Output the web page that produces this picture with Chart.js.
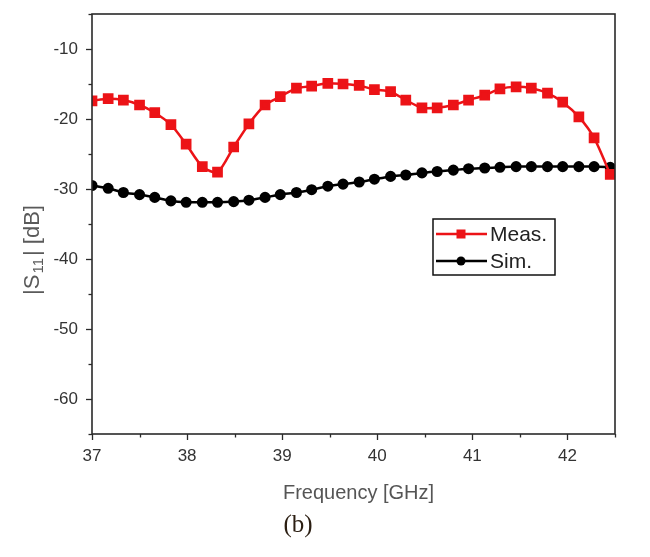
<!DOCTYPE html>
<html>
<head>
<meta charset="utf-8">
<script src="https://cdn.jsdelivr.net/npm/chart.js@4.4.1/dist/chart.umd.min.js"></script>
<style>
  html, body { margin: 0; padding: 0; background: #ffffff; }
  #wrap { width: 650px; height: 557px; position: relative; }
</style>
</head>
<body>
<div id="wrap"><canvas id="c" width="650" height="557"></canvas></div>
<script>
// ---- data ----
const frequencyGHz = [37.00, 37.17, 37.33, 37.50, 37.66, 37.83, 37.99, 38.16, 38.32, 38.49,
                      38.65, 38.82, 38.98, 39.15, 39.31, 39.48, 39.64, 39.81, 39.97, 40.14,
                      40.30, 40.47, 40.63, 40.80, 40.96, 41.13, 41.29, 41.46, 41.62, 41.79,
                      41.95, 42.12, 42.28, 42.45];
const measS11 = [-17.4, -17.1, -17.3, -18.0, -19.1, -20.8, -23.6, -26.8, -27.6, -24.0,
                 -20.7, -18.0, -16.8, -15.6, -15.3, -14.9, -15.0, -15.2, -15.8, -16.1,
                 -17.3, -18.4, -18.4, -18.0, -17.3, -16.6, -15.7, -15.4, -15.6, -16.3,
                 -17.6, -19.7, -22.7, -27.9];
const simS11 = [-29.5, -29.9, -30.5, -30.8, -31.2, -31.7, -31.9, -31.9, -31.9, -31.8,
                -31.6, -31.2, -30.8, -30.5, -30.1, -29.6, -29.3, -29.0, -28.6, -28.2,
                -28.0, -27.7, -27.5, -27.3, -27.1, -27.0, -26.9, -26.8, -26.8, -26.8,
                -26.8, -26.8, -26.8, -26.9];
const seriesNames = ['Meas.', 'Sim.'];
const xTickValues = [37, 38, 39, 40, 41, 42];
const yTickValues = [-60, -50, -40, -30, -20, -10];
const xTitle = 'Frequency [GHz]';
const yTitleParts = ['|S', '11', '| [dB]'];
const caption = '(b)';

const RED = '#ec1317';
const BLACK = '#000000';

function pts(xs, ys) { return xs.map((x, i) => ({ x: x, y: ys[i] })); }

const framePlugin = {
  id: 'frame',
  afterDraw(chart) {
    const ctx = chart.ctx;
    const a = chart.chartArea;
    const xs = chart.scales.x, ys = chart.scales.y;
    ctx.save();
    // frame
    ctx.strokeStyle = '#2a2a2a';
    ctx.lineWidth = 1.6;
    ctx.strokeRect(a.left, a.top, a.right - a.left, a.bottom - a.top);
    // x ticks (major + minor), outward
    ctx.lineWidth = 1.3;
    for (let v = 37; v <= 42.5 + 1e-9; v += 0.5) {
      const px = Math.round(xs.getPixelForValue(v)) + 0.5;
      const major = Math.abs(v - Math.round(v)) < 1e-9;
      ctx.beginPath();
      ctx.moveTo(px, a.bottom);
      ctx.lineTo(px, a.bottom + (major ? 6 : 3.5));
      ctx.stroke();
    }
    // y ticks
    for (let v = -65; v <= -5 + 1e-9; v += 5) {
      const py = Math.round(ys.getPixelForValue(v)) + 0.5;
      const major = (v % 10) === 0;
      ctx.beginPath();
      ctx.moveTo(a.left, py);
      ctx.lineTo(a.left - (major ? 6 : 3.5), py);
      ctx.stroke();
    }
    // y axis title with subscript
    ctx.fillStyle = '#5a5a5a';
    ctx.textBaseline = 'middle';
    const big = '22px "Liberation Sans", Arial, sans-serif';
    const small = '15px "Liberation Sans", Arial, sans-serif';
    ctx.font = big; const w0 = ctx.measureText(yTitleParts[0]).width;
    ctx.font = small; const w1 = ctx.measureText(yTitleParts[1]).width;
    ctx.font = big; const w2 = ctx.measureText(yTitleParts[2]).width;
    const total = w0 + w1 + w2 + 3;
    ctx.translate(33, 250);
    ctx.rotate(-Math.PI / 2);
    let x0 = -total / 2;
    ctx.textAlign = 'left';
    ctx.font = big; ctx.fillText(yTitleParts[0], x0, 0); x0 += w0 + 1;
    ctx.font = small; ctx.fillText(yTitleParts[1], x0, 6); x0 += w1 + 2;
    ctx.font = big; ctx.fillText(yTitleParts[2], x0, 0);
    ctx.restore();

    // x title
    ctx.save();
    ctx.fillStyle = '#555555';
    ctx.font = '20px "Liberation Sans", Arial, sans-serif';
    ctx.textAlign = 'center';
    ctx.textBaseline = 'middle';
    ctx.fillText(xTitle, (a.left + a.right) / 2 + 5, 493);
    // caption
    ctx.fillStyle = '#2b1e12';
    ctx.font = '25px "Liberation Serif", "Times New Roman", serif';
    ctx.fillText(caption, 298, 525);
    ctx.restore();

    // legend box
    ctx.save();
    const lx = a.left + 341, ly = a.top + 205, lw = 122, lh = 56;
    ctx.fillStyle = '#ffffff';
    ctx.fillRect(lx, ly, lw, lh);
    ctx.strokeStyle = '#111111';
    ctx.lineWidth = 1.5;
    ctx.strokeRect(lx, ly, lw, lh);
    const rows = [ly + 15, ly + 42];
    chart.data.datasets.forEach((ds, i) => {
      const yy = rows[i];
      ctx.strokeStyle = ds.borderColor;
      ctx.lineWidth = 2.5;
      ctx.beginPath();
      ctx.moveTo(lx + 3, yy);
      ctx.lineTo(lx + 54, yy);
      ctx.stroke();
      ctx.fillStyle = ds.pointBackgroundColor;
      if (ds.pointStyle === 'rect') {
        ctx.fillRect(lx + 28 - 4.5, yy - 4.5, 9, 9);
      } else {
        ctx.beginPath();
        ctx.arc(lx + 28, yy, 4.5, 0, Math.PI * 2);
        ctx.fill();
      }
      ctx.fillStyle = '#222222';
      ctx.font = '21px "Liberation Sans", Arial, sans-serif';
      ctx.textAlign = 'left';
      ctx.textBaseline = 'middle';
      ctx.fillText(ds.label, lx + 57, yy + 1);
    });
    ctx.restore();
  }
};

new Chart(document.getElementById('c'), {
  type: 'line',
  data: {
    datasets: [
      {
        label: seriesNames[0],
        data: pts(frequencyGHz, measS11),
        borderColor: RED,
        backgroundColor: RED,
        pointBackgroundColor: RED,
        pointBorderColor: RED,
        pointStyle: 'rect',
        pointRadius: 5.8,
        borderWidth: 2.5,
        tension: 0.25
      },
      {
        label: seriesNames[1],
        data: pts(frequencyGHz, simS11),
        borderColor: BLACK,
        backgroundColor: BLACK,
        pointBackgroundColor: BLACK,
        pointBorderColor: BLACK,
        pointStyle: 'circle',
        pointRadius: 4.3,
        borderWidth: 2.5,
        tension: 0.25
      }
    ]
  },
  options: {
    responsive: false,
    devicePixelRatio: 1,
    animation: false,
    layout: { padding: { top: 14, right: 35, left: 0, bottom: 0 } },
    plugins: { legend: { display: false }, tooltip: { enabled: false } },
    scales: {
      x: {
        type: 'linear',
        min: 37, max: 42.5,
        afterBuildTicks(scale) { scale.ticks = xTickValues.map(v => ({ value: v })); },
        afterFit(scale) { scale.height = 123; scale.paddingLeft = 0; scale.paddingRight = 0; },
        grid: { display: false },
        border: { display: false },
        ticks: {
          padding: 4,
          color: '#333333',
          font: { family: '"Liberation Sans", Arial, sans-serif', size: 17 },
          maxRotation: 0,
          callback: v => String(v)
        }
      },
      y: {
        type: 'linear',
        min: -65, max: -5,
        afterBuildTicks(scale) { scale.ticks = yTickValues.map(v => ({ value: v })); },
        afterFit(scale) { scale.width = 92; scale.paddingTop = 0; scale.paddingBottom = 0; },
        grid: { display: false },
        border: { display: false },
        ticks: {
          padding: 6,
          color: '#333333',
          font: { family: '"Liberation Sans", Arial, sans-serif', size: 17 },
          callback: v => String(v)
        }
      }
    }
  },
  plugins: [framePlugin]
});
</script>
</body>
</html>
